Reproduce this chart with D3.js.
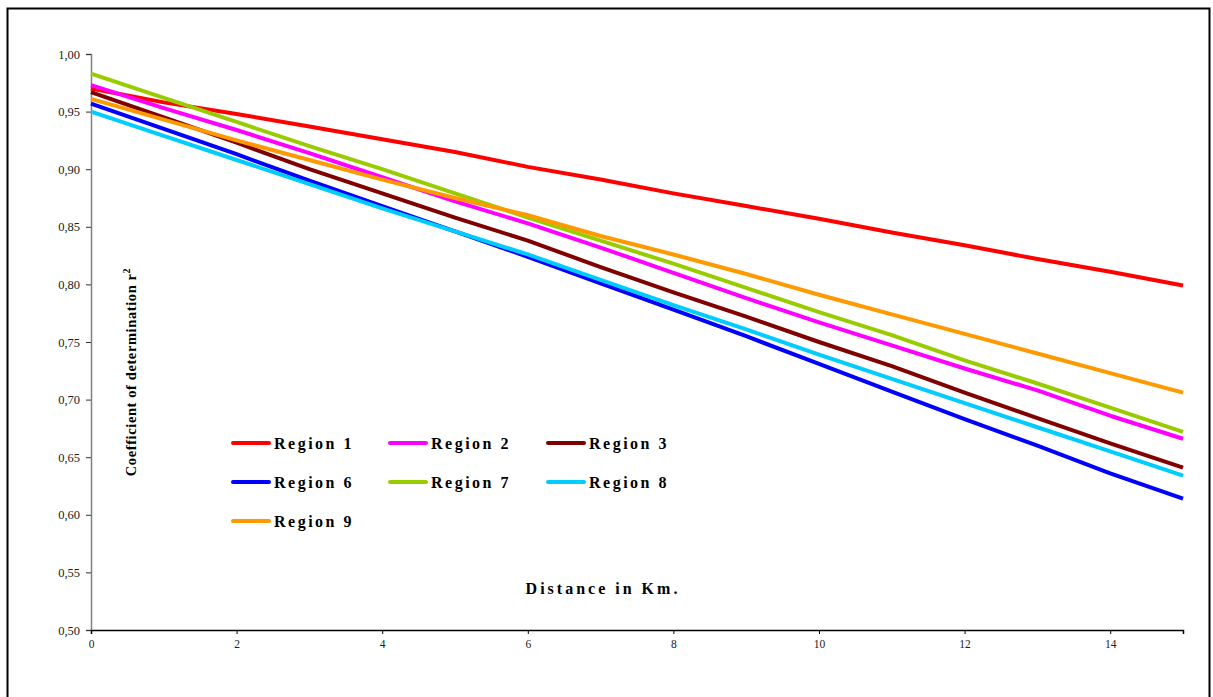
<!DOCTYPE html>
<html>
<head>
<meta charset="utf-8">
<script src="https://cdn.jsdelivr.net/npm/d3@7"></script>
<style>
  body { margin: 0; background: #fff; }
  svg { display: block; }
  text { font-family: "Liberation Serif", "Times New Roman", serif; }
</style>
</head>
<body>
<svg class="chart"></svg>
<script>
// Distances (km) at which r2 was read
var distances = [0, 1, 2, 3, 4, 5, 6, 7, 8, 9, 10, 11, 12, 13, 14, 15];

// Series names and colours
var regions = ["Region 1", "Region 2", "Region 3", "Region 6", "Region 7", "Region 8", "Region 9"];
var colors = ["#ff0000", "#ff00ff", "#800000", "#0000ff", "#99cc00", "#00ccff", "#ff9900"];

// r2 values per region
var region1 = [0.970, 0.958, 0.948, 0.937, 0.926, 0.915, 0.902, 0.891, 0.879, 0.868, 0.857, 0.845, 0.834, 0.822, 0.811, 0.799];
var region2 = [0.973, 0.953, 0.934, 0.914, 0.893, 0.872, 0.853, 0.832, 0.810, 0.788, 0.767, 0.747, 0.727, 0.708, 0.686, 0.666];
var region3 = [0.967, 0.945, 0.923, 0.900, 0.879, 0.858, 0.838, 0.815, 0.793, 0.772, 0.750, 0.729, 0.706, 0.684, 0.662, 0.641];
var region6 = [0.957, 0.935, 0.913, 0.890, 0.868, 0.846, 0.824, 0.801, 0.778, 0.755, 0.731, 0.707, 0.683, 0.660, 0.636, 0.614];
var region7 = [0.983, 0.962, 0.941, 0.920, 0.900, 0.879, 0.858, 0.838, 0.818, 0.797, 0.776, 0.756, 0.734, 0.714, 0.693, 0.672];
var region8 = [0.950, 0.929, 0.908, 0.887, 0.866, 0.846, 0.826, 0.804, 0.782, 0.761, 0.739, 0.718, 0.697, 0.676, 0.655, 0.634];
var region9 = [0.961, 0.943, 0.925, 0.908, 0.891, 0.875, 0.860, 0.842, 0.826, 0.809, 0.791, 0.774, 0.757, 0.740, 0.723, 0.706];

var xTicks = [0, 2, 4, 6, 8, 10, 12, 14];
var yTicks = [0.50, 0.55, 0.60, 0.65, 0.70, 0.75, 0.80, 0.85, 0.90, 0.95, 1.00];

var allValues = [region1, region2, region3, region6, region7, region8, region9];

var width = 1213, height = 697;
var svg = d3.select(".chart")
    .attr("width", width)
    .attr("height", height);

// Outer frame
svg.append("rect")
    .attr("x", 7.5).attr("y", 8.5)
    .attr("width", 1202).attr("height", 700)
    .attr("fill", "none")
    .attr("stroke", "#000")
    .attr("stroke-width", 2);

var x = d3.scaleLinear().domain([0, 15]).range([91, 1183]);
var y = d3.scaleLinear().domain([0.5, 1.0]).range([630, 54]);

var fmt = function (d) { return d3.format(".2f")(d).replace(".", ","); };

// Y axis
var yAxis = svg.append("g")
    .attr("transform", "translate(91,0)")
    .call(d3.axisLeft(y).tickValues(yTicks).tickSize(5).tickFormat(fmt));
yAxis.select(".domain").attr("stroke", "#808080").attr("stroke-width", 1.5);
yAxis.selectAll(".tick line").attr("stroke", "#333");
yAxis.selectAll(".tick text")
    .attr("x", -11)
    .attr("fill", "#222")
    .style("font-size", "12.5px");

// X axis
var xAxis = svg.append("g")
    .attr("transform", "translate(0,630)")
    .call(d3.axisBottom(x).tickValues(xTicks).tickSize(4).tickFormat(d3.format("d")));
xAxis.select(".domain").attr("stroke", "#000").attr("stroke-width", 1.5);
xAxis.selectAll(".tick line").attr("stroke", "#000");
xAxis.selectAll(".tick text")
    .attr("y", 10)
    .attr("fill", "#222")
    .style("font-size", "11.5px");

// Lines
var line = d3.line()
    .x(function (d, i) { return x(distances[i]); })
    .y(function (d) { return y(d); });

svg.append("g").selectAll("path")
    .data(allValues)
    .enter()
    .append("path")
    .attr("d", line)
    .attr("fill", "none")
    .attr("stroke", function (d, i) { return colors[i]; })
    .attr("stroke-width", 4)
    .attr("stroke-linejoin", "round");

// Axis titles
var yTitle = svg.append("text")
    .attr("transform", "translate(136,372) rotate(-90)")
    .attr("text-anchor", "middle")
    .style("font-size", "14.5px")
    .style("font-weight", "bold")
    .style("letter-spacing", "0.6px");
yTitle.append("tspan").text("Coefficient of determination  r");
yTitle.append("tspan").attr("dy", -6).style("font-size", "10px").text("2");

svg.append("text")
    .attr("x", 603).attr("y", 594)
    .attr("text-anchor", "middle")
    .style("font-size", "16px")
    .style("font-weight", "bold")
    .style("letter-spacing", "3px")
    .text("Distance in Km.");

// Legend
var legendCols = [233, 390, 548];
var legendRows = [443, 482, 521];
var legend = svg.append("g").selectAll("g")
    .data(regions)
    .enter()
    .append("g")
    .attr("transform", function (d, i) {
        return "translate(" + legendCols[i % 3] + "," + legendRows[Math.floor(i / 3)] + ")";
    });

legend.append("line")
    .attr("x1", 0).attr("x2", 36)
    .attr("stroke", function (d, i) { return colors[i]; })
    .attr("stroke-width", 4)
    .attr("stroke-linecap", "round");

legend.append("text")
    .attr("x", 41).attr("y", 5.5)
    .style("font-size", "16px")
    .style("font-weight", "bold")
    .style("letter-spacing", "2.5px")
    .text(function (d) { return d; });
</script>
</body>
</html>
